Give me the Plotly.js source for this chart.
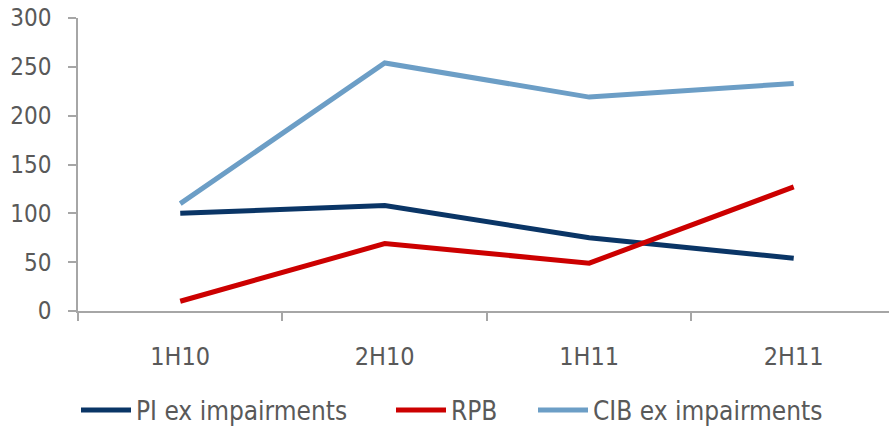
<!DOCTYPE html>
<html><head><meta charset="utf-8">
<script src="https://cdn.plot.ly/plotly-3.0.1.min.js"></script>
<style>html,body{margin:0;padding:0;background:#fff}#chart{width:889px;height:428px}</style>
</head><body><div id="chart"></div>
<script>
const categories = ["1H10", "2H10", "1H11", "2H11"];
const piExImpairments = [100, 108, 75, 54];
const rpb = [10, 69, 49, 127];
const cibExImpairments = [110, 254, 219, 233];
const seriesNames = ["PI ex impairments", "RPB", "CIB ex impairments"];
const yTicks = [0, 50, 100, 150, 200, 250, 300];

const font = "'Liberation Sans Narrow', 'DejaVu Sans Condensed', 'Liberation Sans', sans-serif";
const colors = ["#0a3566", "#cc0000", "#6c9ec6"];
const legendIds = ["legend", "legend2", "legend3"];
const legendX = [76, 391, 533];
const series = [piExImpairments, rpb, cibExImpairments];
const traces = series.map((s, i) => ({
  x: categories, y: s, name: seriesNames[i], type: "scatter", mode: "lines",
  line: {color: colors[i], width: 5}, legend: legendIds[i]
}));

const layout = {
  width: 889, height: 428,
  margin: {l: 78, r: 0, t: 18, b: 117},
  paper_bgcolor: "#fff", plot_bgcolor: "#fff",
  font: {family: font, color: "#595959", size: 22},
  showlegend: true,
  xaxis: {type: "category", range: [-0.5, 3.466], showgrid: false, zeroline: false,
    showline: true, linecolor: "#a6a6a6", linewidth: 1.5,
    ticks: "outside", ticklen: 8, tickcolor: "#a6a6a6", tickwidth: 1.5, tickson: "boundaries",
    ticklabelstandoff: 22, tickfont: {size: 25, color: "#595959"}},
  yaxis: {range: [0, 300], tickvals: yTicks, showgrid: false, zeroline: false,
    showline: true, linecolor: "#a6a6a6", linewidth: 1.5,
    ticks: "outside", ticklen: 8, tickcolor: "#a6a6a6", tickwidth: 1.5,
    ticklabelstandoff: 12, tickfont: {size: 24, color: "#595959"}}
};
legendIds.forEach((id, i) => {
  layout[id] = {orientation: "h", xref: "container", x: legendX[i] / 889, xanchor: "left",
    yref: "container", y: 18 / 428, yanchor: "middle", bgcolor: "rgba(0,0,0,0)",
    font: {family: font, size: 26, color: "#595959"}, itemwidth: 50};
});

Plotly.newPlot("chart", traces, layout, {displayModeBar: false});
</script></body></html>
